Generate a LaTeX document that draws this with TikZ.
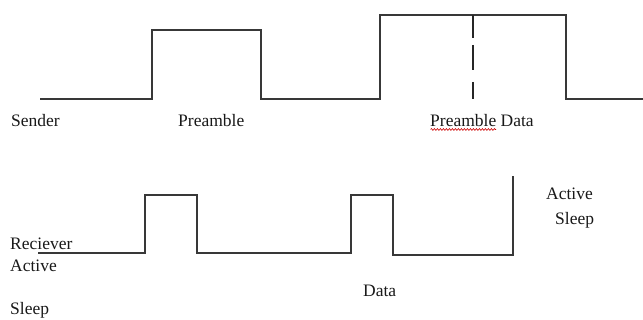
\documentclass[tikz,border=0pt]{standalone}
\usepackage{fontspec}
\setmainfont{Liberation Serif}
\usetikzlibrary{decorations.pathmorphing}
\tikzset{
  wave/.style={draw=black!78, line width=1.6pt, line join=miter},
  lbl/.style={inner sep=0pt, anchor=west, font=\fontsize{17.5}{20}\selectfont, text=black!90},
  split/.style={draw=black!85, line width=1.6pt, dash pattern=on 23pt off 7pt on 25pt off 12pt on 18pt off 0pt},
  spell/.style={draw=red!80!black, line width=0.6pt, decorate,
    decoration={snake, amplitude=0.9pt, segment length=3pt}}
}
\begin{document}
\begin{tikzpicture}[x=1pt, y=-1pt]
\useasboundingbox (0,0) rectangle (643,320);

% sender line
\coordinate (s0) at (40,99);
\coordinate (s1) at (643,99);
\draw[wave] (s0) -- (152,99) -- (152,30) -- (261,30) -- (261,99) -- (380,99)
  -- (380,15) -- (566,15) -- (566,99) -- (s1);
\coordinate (dtop) at (473,15);
\coordinate (dbot) at (473,99);
\draw[split] (dtop) -- (dbot);

% receiver line
\coordinate (r0) at (38,253);
\coordinate (r1) at (513,176);
\draw[wave] (r0) -- (145,253) -- (145,195) -- (197,195) -- (197,253) -- (351,253)
  -- (351,195) -- (393,195) -- (393,255) -- (513,255) -- (r1);

% labels
\node[lbl] (sender) at (11,121) {Sender};
\node[lbl] (pre) at (178,121) {Preamble};
\node[lbl] (predata) at (430,121) {Preamble Data};
\draw[spell] (430.5,129.5) -- (496,129.5);

\node[lbl] (recv) at (10,244) {Reciever};
\node[lbl] (act) at (10,266) {Active};
\node[lbl] (slp) at (10,310) {Sleep};
\node[lbl] (data) at (363,291) {Data};
\node[lbl] (act2) at (546,194) {Active};
\node[lbl] (slp2) at (555,220) {Sleep};
\end{tikzpicture}
\end{document}
